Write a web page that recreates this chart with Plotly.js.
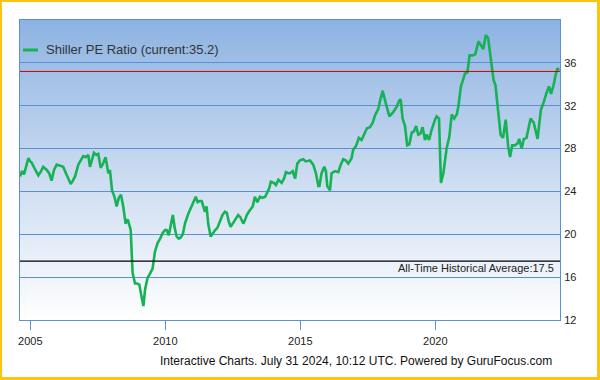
<!DOCTYPE html>
<html>
<head>
<meta charset="utf-8">
<script src="https://cdn.plot.ly/plotly-3.0.1.min.js"></script>
<style>
  html, body { margin: 0; padding: 0; background: #ffffff; }
  #wrap { position: relative; width: 600px; height: 380px; overflow: hidden; background: #ffffff; }
  #grad { position: absolute; left: 20px; top: 20px; width: 540px; height: 300px;
          background: linear-gradient(to bottom, #8DB3E2 0%, #C9DAF0 50%, #FFFFFF 100%); }
  #chart { position: absolute; left: 0; top: 0; width: 600px; height: 380px; }
  #frame { position: absolute; left: 0; top: 0; width: 600px; height: 380px; box-sizing: border-box;
           border-style: solid; border-color: #FFC20E; border-width: 2px 3px 3px 2px; pointer-events: none; }
</style>
</head>
<body>
<div id="wrap">
  <div id="grad"></div>
  <div id="chart"></div>
  <div id="frame"></div>
</div>
<script>
// Dates as decimal years, Shiller PE values
const years = [
  2004.62, 2004.70, 2004.77, 2004.85, 2004.93, 2005.00, 2005.05, 2005.15, 2005.30, 2005.40,
  2005.48, 2005.61, 2005.70, 2005.79, 2005.88, 2005.98, 2006.10, 2006.22, 2006.32, 2006.50,
  2006.58, 2006.66, 2006.78, 2006.90, 2006.96, 2007.05, 2007.15, 2007.21, 2007.36, 2007.45,
  2007.52, 2007.61, 2007.70, 2007.79, 2007.89, 2007.95, 2008.03, 2008.12, 2008.20, 2008.28,
  2008.36, 2008.45, 2008.53, 2008.61, 2008.72, 2008.79, 2008.88, 2008.96, 2009.04, 2009.09,
  2009.19, 2009.25, 2009.34, 2009.45, 2009.53, 2009.62, 2009.72, 2009.81, 2009.90, 2009.99,
  2010.05, 2010.13, 2010.20, 2010.28, 2010.35, 2010.42, 2010.50, 2010.57, 2010.65, 2010.73,
  2010.85, 2010.98, 2011.05, 2011.13, 2011.20, 2011.27, 2011.35, 2011.43, 2011.47, 2011.53,
  2011.59, 2011.68, 2011.78, 2011.85, 2011.93, 2012.03, 2012.12, 2012.21, 2012.28, 2012.35,
  2012.42, 2012.50, 2012.58, 2012.70, 2012.78, 2012.89, 2012.95, 2013.02, 2013.12, 2013.24,
  2013.32, 2013.41, 2013.51, 2013.60, 2013.70, 2013.76, 2013.85, 2013.91, 2014.02, 2014.10,
  2014.19, 2014.31, 2014.40, 2014.47, 2014.55, 2014.62, 2014.72, 2014.81, 2014.89, 2014.99,
  2015.11, 2015.21, 2015.30, 2015.36, 2015.48, 2015.58, 2015.67, 2015.71, 2015.79, 2015.89,
  2015.95, 2016.00, 2016.10, 2016.16, 2016.29, 2016.41, 2016.50, 2016.59, 2016.68, 2016.78,
  2016.90, 2016.96, 2017.06, 2017.17, 2017.27, 2017.39, 2017.47, 2017.58, 2017.68, 2017.77,
  2017.89, 2017.95, 2018.05, 2018.14, 2018.20, 2018.30, 2018.44, 2018.57, 2018.67, 2018.72,
  2018.79, 2018.88, 2018.96, 2019.04, 2019.13, 2019.21, 2019.29, 2019.37, 2019.45, 2019.53,
  2019.62, 2019.68, 2019.77, 2019.86, 2019.99, 2020.05, 2020.14, 2020.17, 2020.21, 2020.30,
  2020.42, 2020.52, 2020.61, 2020.70, 2020.80, 2020.86, 2020.95, 2021.04, 2021.10, 2021.19,
  2021.27, 2021.38, 2021.48, 2021.60, 2021.69, 2021.78, 2021.87, 2021.96, 2022.03, 2022.11,
  2022.16, 2022.23, 2022.32, 2022.42, 2022.51, 2022.61, 2022.70, 2022.77, 2022.85, 2022.95,
  2023.05, 2023.11, 2023.20, 2023.28, 2023.38, 2023.53, 2023.65, 2023.79, 2023.91, 2024.00,
  2024.12, 2024.21, 2024.29, 2024.38, 2024.47, 2024.53, 2024.58
];
const shillerPE = [
  25.4, 25.9, 25.6, 26.3, 27.1, 26.8, 26.7, 26.2, 25.5, 25.9,
  26.3, 26.0, 25.7, 25.0, 26.0, 26.5, 26.4, 26.3, 25.7, 24.7,
  25.0, 25.4, 26.5, 27.0, 27.3, 27.2, 27.4, 26.3, 27.6, 27.4,
  27.5, 26.2, 26.6, 27.2, 25.7, 26.0, 24.1, 23.5, 22.6, 23.4,
  23.7, 22.5, 21.0, 21.4, 20.4, 16.4, 15.4, 15.4, 15.3, 14.6,
  13.3, 14.8, 15.9, 16.4, 16.8, 18.4, 19.2, 19.6, 20.1, 20.4,
  20.4, 19.9, 20.7, 21.8, 20.6, 19.8, 19.6, 19.7, 20.0, 21.0,
  21.9, 22.7, 23.1, 23.5, 23.0, 23.1, 23.1, 22.3, 22.1, 22.6,
  21.0, 19.8, 20.2, 20.4, 20.6, 21.3, 21.8, 22.1, 22.0, 21.2,
  20.7, 21.0, 21.3, 21.8, 21.6, 21.0, 21.3, 21.8, 22.2, 22.6,
  23.5, 23.0, 23.5, 23.4, 23.5, 23.8, 24.3, 24.9, 24.8, 24.6,
  25.1, 24.8, 25.2, 25.8, 25.7, 25.7, 25.9, 25.2, 26.6, 26.9,
  27.0, 26.8, 26.9, 26.9, 26.5, 25.7, 24.5, 24.5, 25.7, 26.3,
  25.9, 24.5, 24.1, 25.7, 25.9, 25.8, 26.5, 27.0, 26.9, 26.6,
  27.1, 27.9, 28.2, 29.0, 28.8, 29.4, 29.9, 30.0, 30.4, 31.1,
  31.7, 32.4, 33.4, 32.5, 32.0, 31.0, 31.4, 31.9, 32.5, 32.6,
  30.8, 30.1, 28.3, 28.4, 29.5, 29.6, 30.1, 29.3, 29.4, 30.0,
  28.8, 29.3, 28.8, 29.7, 30.7, 31.0, 30.8, 27.6, 24.8, 25.7,
  28.0, 29.1, 31.2, 30.8, 31.2, 32.0, 33.8, 34.5, 35.0, 35.1,
  36.7, 36.7, 36.8, 38.0, 37.7, 37.3, 38.6, 38.3, 36.9, 35.3,
  34.4, 33.9, 31.6, 29.3, 29.0, 30.7, 28.2, 27.2, 28.3, 28.3,
  28.5, 28.9, 28.0, 28.9, 29.0, 30.8, 30.4, 28.9, 31.6, 32.2,
  33.2, 33.8, 33.1, 33.9, 35.0, 35.5, 35.3
];
const seriesName = "Shiller PE Ratio";
const currentValue = 35.2;
const historicalAverage = 17.5;
const xTickVals = [2005, 2010, 2015, 2020];
const xTickText = ["2005", "2010", "2015", "2020"];
const yTickVals = [12, 16, 20, 24, 28, 32, 36];
const caption = "Interactive Charts. July 31 2024, 10:12 UTC. Powered by GuruFocus.com";

const green = "#17B156";
const gridBlue = "#5B8FD8";
const font = "Liberation Sans, Arial, sans-serif";

const trace = {
  x: years, y: shillerPE, type: "scatter", mode: "lines",
  name: seriesName + " (current:" + currentValue + ")",
  line: { color: green, width: 2.6 },
  showlegend: false, hoverinfo: "x+y"
};

const layout = {
  width: 600, height: 380,
  margin: { l: 20, r: 40, t: 20, b: 60, pad: 0 },
  paper_bgcolor: "rgba(0,0,0,0)",
  plot_bgcolor: "rgba(0,0,0,0)",
  font: { family: font, size: 11, color: "#333333" },
  showlegend: false,
  xaxis: {
    type: "linear", range: [2004.62, 2024.62],
    tickvals: xTickVals, ticktext: xTickText,
    ticks: "outside", ticklen: 9, tickwidth: 1, tickcolor: gridBlue,
    ticklabelstandoff: 2,
    showgrid: false, zeroline: false,
    showline: true, linecolor: gridBlue, linewidth: 1, mirror: true,
    tickfont: { family: font, size: 11, color: "#222222" }
  },
  yaxis: {
    range: [12, 40], side: "right",
    tickvals: yTickVals, ticks: "",
    ticklabelstandoff: 1,
    showgrid: true, gridcolor: gridBlue, gridwidth: 1,
    zeroline: false,
    showline: true, linecolor: gridBlue, linewidth: 1, mirror: true,
    tickfont: { family: font, size: 11, color: "#222222" }
  },
  shapes: [
    { type: "line", xref: "paper", yref: "y", x0: 0, x1: 1, y0: currentValue, y1: currentValue,
      line: { color: "#CC0000", width: 1 } },
    { type: "line", xref: "paper", yref: "y", x0: 0, x1: 1, y0: historicalAverage, y1: historicalAverage,
      line: { color: "#000000", width: 1.3 } },
    { type: "line", xref: "paper", yref: "paper", x0: 3/540, x1: 18/540, y0: 0.9, y1: 0.9,
      line: { color: green, width: 3 } }
  ],
  annotations: [
    { xref: "paper", yref: "paper", x: 24/540, y: 0.9, xanchor: "left", yanchor: "middle",
      text: seriesName + " (current:" + currentValue + ")", showarrow: false,
      font: { family: font, size: 13, color: "#333333" } },
    { xref: "paper", yref: "paper", x: 536/540, y: 52/300, xanchor: "right", yanchor: "middle",
      text: "All-Time Historical Average:" + historicalAverage, showarrow: false,
      font: { family: font, size: 11, color: "#222222" } },
    { xref: "paper", yref: "paper", x: 534/540, y: -41/300, xanchor: "right", yanchor: "middle",
      text: caption, showarrow: false,
      font: { family: font, size: 12, color: "#111111" } }
  ]
};

Plotly.newPlot("chart", [trace], layout, { displayModeBar: false, staticPlot: true });
</script>
</body>
</html>
